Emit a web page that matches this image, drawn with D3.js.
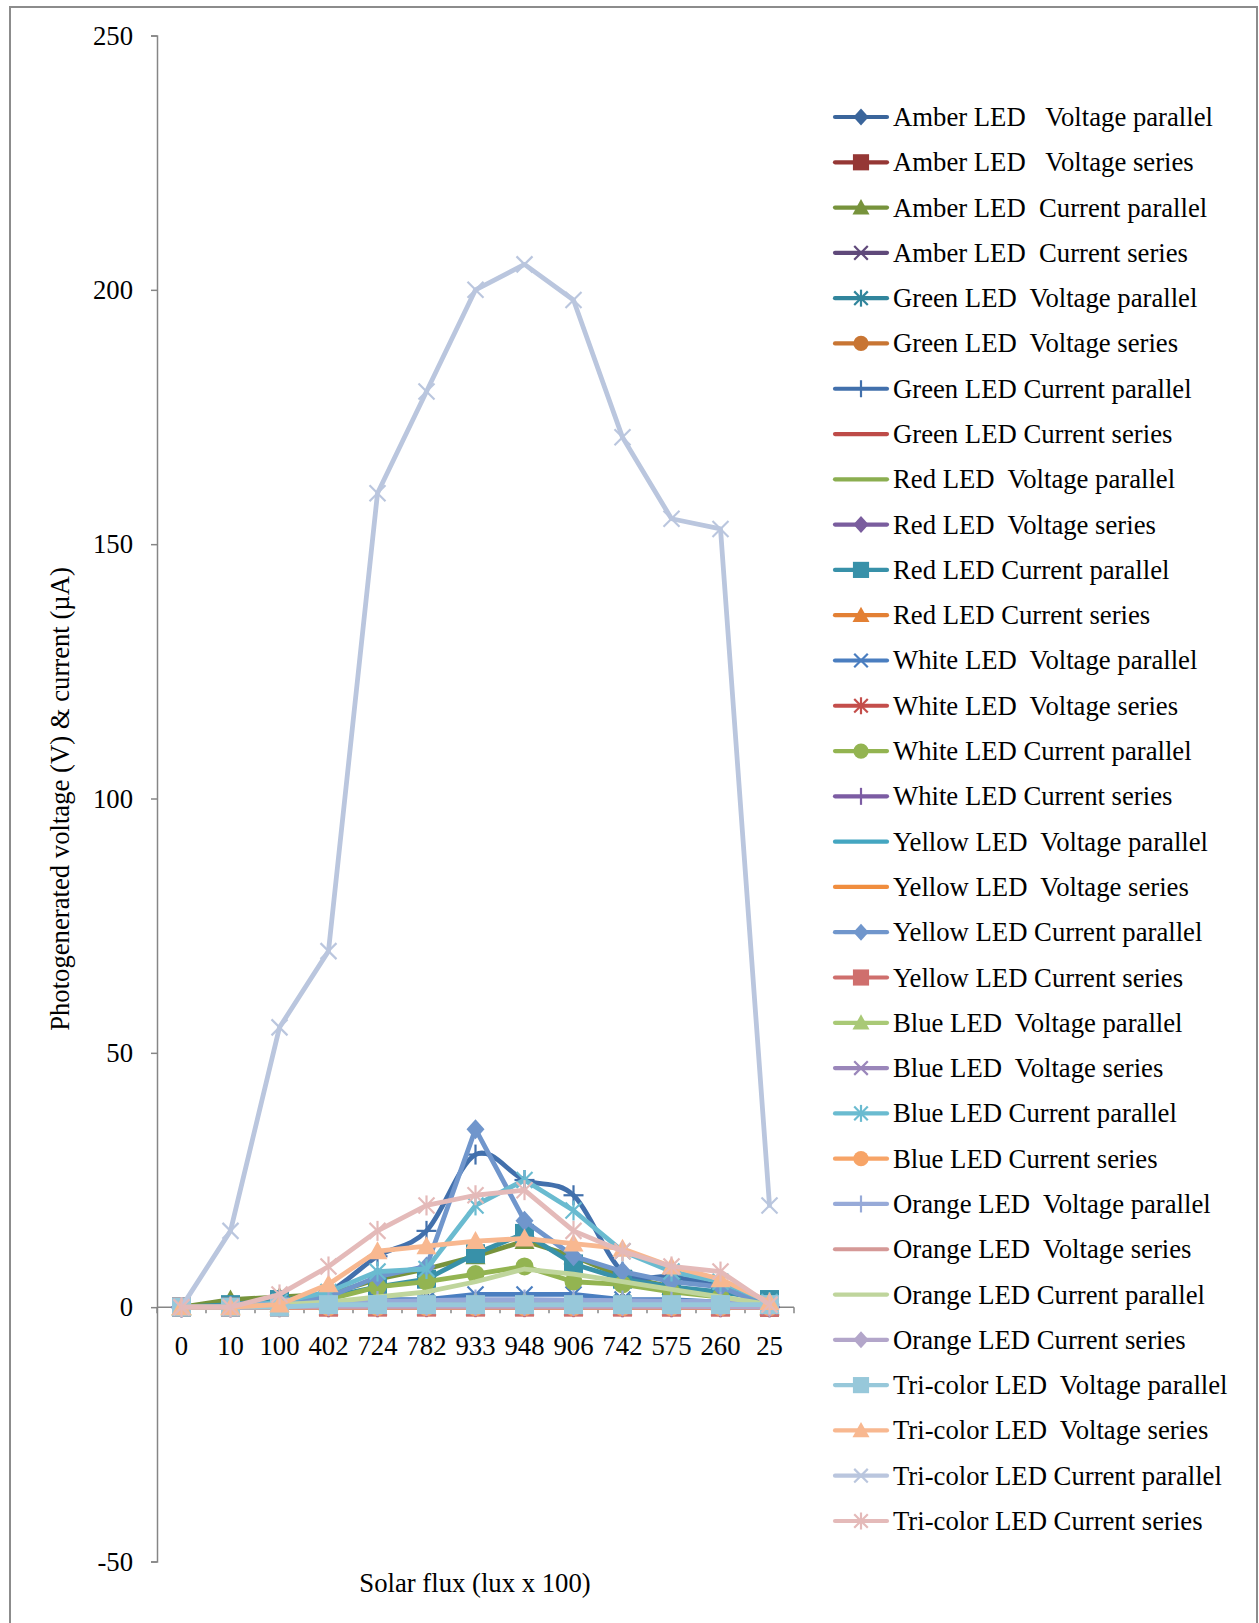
<!DOCTYPE html>
<html>
<head>
<meta charset="utf-8">
<script src="https://cdn.jsdelivr.net/npm/d3@7"></script>
<style>
  html, body { margin: 0; padding: 0; background: #fff; }
  svg text { font-family: "Liberation Serif", "Times New Roman", serif; fill: #000; }
</style>
</head>
<body>
<svg id="chart" width="1259" height="1623"></svg>
<script>
// Solar flux readings (lux x 100), in the order they were taken
const categories = ["0", "10", "100", "402", "724", "782", "933", "948", "906", "742", "575", "260", "25"];

// Each LED: [voltage parallel, voltage series, current parallel, current series]
const amber = [
  [0, 0.3, 0.6, 0.8, 1.0, 1.1, 1.2, 1.2, 1.1, 1.0, 0.9, 0.8, 0.4],
  [0, 0, 0.1, 0.1, 0.2, 0.2, 0.2, 0.2, 0.2, 0.2, 0.1, 0.1, 0],
  [0, 1.5, 2, 2.5, 5.5, 7.5, 10, 13, 10, 6, 4, 2, 0],
  [0, 0, 0, 0.1, 0.1, 0.1, 0.2, 0.2, 0.1, 0.1, 0.1, 0, 0]
];
const green = [
  [0, 0.2, 0.4, 0.6, 0.8, 0.9, 1.0, 1.0, 1.0, 0.9, 0.8, 0.7, 0.3],
  [0, 0, 0, 0.1, 0.1, 0.1, 0.1, 0.1, 0.1, 0.1, 0.1, 0, 0],
  [0, 0, 1, 3, 10, 15, 30, 25, 22, 7, 6, 4, 0],
  [0, 0, 0, 0, 0.1, 0.1, 0.1, 0.1, 0.1, 0.1, 0, 0, 0]
];
const red = [
  [0, 0.2, 0.5, 0.7, 0.9, 1.0, 1.1, 1.1, 1.0, 0.9, 0.8, 0.7, 0.3],
  [0, 0.1, 0.2, 0.2, 0.3, 0.3, 0.3, 0.3, 0.3, 0.3, 0.2, 0.2, 0.1],
  [0, 0.5, 1.5, 2, 4, 5.5, 10.5, 14.5, 8.5, 5.5, 4, 3, 1.5],
  [0, 0, 0, 0, 0, 0, 0, 0, 0, 0, 0, 0, 0]
];
const white = [
  [0, 0, 0.5, 1, 1.5, 1.5, 2.5, 2.5, 2.5, 1.5, 1.5, 1, 0.3],
  [0, 0, 0, 0, 0, 0, 0, 0, 0, 0, 0, 0, 0],
  [0, 0.2, 0.5, 1.5, 4, 5, 6.5, 8, 5, 4.5, 3, 2, 0.3],
  [0, 0, 0, 0, 0, 0.1, 0.1, 0.1, 0.1, 0, 0, 0, 0]
];
const yellow = [
  [0, 0.2, 0.5, 0.7, 0.8, 0.9, 1.0, 1.0, 0.9, 0.8, 0.8, 0.7, 0.3],
  [0, 0, 0, 0, 0, 0, 0, 0, 0, 0, 0, 0, 0],
  [0, 0, 1, 2, 6, 8, 35, 17, 10, 7, 5, 4, 0],
  [0, 0, 0, 0, 0, 0, 0, 0, 0, 0, 0, 0, 0]
];
const blue = [
  [0, 0.2, 0.6, 0.8, 1.0, 1.0, 1.1, 1.1, 1.0, 1.0, 0.9, 0.8, 0.4],
  [0, 0.1, 0.3, 0.4, 0.5, 0.5, 0.5, 0.5, 0.5, 0.5, 0.4, 0.4, 0.2],
  [0, 0, 1, 3, 7, 7.5, 20, 25, 19, 11, 7, 5, 1],
  [0, 0, 0, 0, 0, 0, 0, 0, 0, 0, 0, 0, 0]
];
const orange = [
  [0, 0.2, 0.6, 1.0, 1.2, 1.3, 1.5, 1.5, 1.4, 1.3, 1.2, 1.1, 0.5],
  [0, 0, 0, 0, 0, 0, 0, 0, 0, 0, 0, 0, 0],
  [0, 0, 0.5, 1, 2, 3, 5, 7.5, 6.5, 5, 3.5, 2, 0.5],
  [0, 0, 0.1, 0.2, 0.2, 0.2, 0.2, 0.2, 0.2, 0.2, 0.2, 0.1, 0]
];
const tricolor = [
  [0, 0, 0, 0.5, 0.5, 0.5, 0.5, 0.5, 0.5, 0.5, 0.5, 0.5, 0.5],
  [0, 0, 0.5, 4.5, 11, 12, 13, 13.5, 12.5, 11.5, 8, 5.5, 1],
  [0, 15, 55, 70, 160, 180, 200, 205, 198, 171, 155, 153, 20],
  [0, 0, 2.5, 8, 15, 20, 22, 23, 15, 11, 8, 7, 0.5]
];

// Legend labels, one per series, spacing kept as typed
const seriesNames = [
  "Amber LED   Voltage parallel", "Amber LED   Voltage series", "Amber LED  Current parallel", "Amber LED  Current series",
  "Green LED  Voltage parallel", "Green LED  Voltage series", "Green LED Current parallel", "Green LED Current series",
  "Red LED  Voltage parallel", "Red LED  Voltage series", "Red LED Current parallel", "Red LED Current series",
  "White LED  Voltage parallel", "White LED  Voltage series", "White LED Current parallel", "White LED Current series",
  "Yellow LED  Voltage parallel", "Yellow LED  Voltage series", "Yellow LED Current parallel", "Yellow LED Current series",
  "Blue LED  Voltage parallel", "Blue LED  Voltage series", "Blue LED Current parallel", "Blue LED Current series",
  "Orange LED  Voltage parallel", "Orange LED  Voltage series", "Orange LED Current parallel", "Orange LED Current series",
  "Tri-color LED  Voltage parallel", "Tri-color LED  Voltage series", "Tri-color LED Current parallel", "Tri-color LED Current series"
];

const seriesColors = [
  "#3A659B", "#953735", "#77933C", "#5F497A", "#31859C", "#C87533", "#4270AC", "#BE4B48",
  "#8BAE50", "#7A5D9E", "#3891A9", "#E38034", "#4A7EC0", "#C44E4B", "#93B451", "#7C5CA3",
  "#44A6C1", "#F08D3E", "#7096CC", "#CF6F6D", "#A9C976", "#9A86BA", "#6ABBD0", "#F7A467",
  "#97AAD8", "#D59997", "#BFD59C", "#B3A6CA", "#97C8DA", "#F8B890", "#BAC6DE", "#E4BAB9"
];

// Marker cycle used by the spreadsheet for successive series
const markerCycle = ["diamond", "square", "triangle", "x", "asterisk", "circle", "plus", "none", "none"];
const smoothSeries = ["Green LED Current parallel"];

const yTicks = [-50, 0, 50, 100, 150, 200, 250];
const xTitle = "Solar flux (lux x 100)";
const yTitle = "Photogenerated voltage (V) & current (µA)";

const seriesValues = [].concat(amber, green, red, white, yellow, blue, orange, tricolor);
const series = seriesValues.map((vals, i) => ({
  name: seriesNames[i],
  color: seriesColors[i],
  marker: markerCycle[i % markerCycle.length],
  smooth: smoothSeries.includes(seriesNames[i]),
  values: vals
}));

const svg = d3.select("#chart");
const FONT = 26.7;

// outer frame
svg.append("rect")
  .attr("x", 10).attr("y", 7).attr("width", 1247).attr("height", 1660)
  .attr("fill", "none").attr("stroke", "#8c8c8c").attr("stroke-width", 2);

const plot = { left: 157, right: 794, top: 35.5, bottom: 1561.5 };

const x = d3.scalePoint().domain(categories).range([plot.left, plot.right]).padding(0.5);
const y = d3.scaleLinear().domain([-50, 250]).range([plot.bottom, plot.top]);
const band = (plot.right - plot.left) / categories.length;

// y axis
const yAxis = svg.append("g").attr("transform", `translate(${plot.left},0)`)
  .call(d3.axisLeft(y).tickValues(yTicks).tickSize(6).tickPadding(18).tickFormat(d => String(d)));
yAxis.select(".domain").attr("stroke", "#868686").attr("stroke-width", 1.5);
yAxis.selectAll(".tick line").attr("stroke", "#868686").attr("stroke-width", 1.5);
yAxis.selectAll("text").attr("font-size", FONT).attr("font-family", "Liberation Serif").attr("fill", "#000");

// x axis sits at zero; tick marks on the category boundaries
const xg = svg.append("g").attr("transform", `translate(0,${y(0)})`);
xg.append("line").attr("x1", plot.left).attr("x2", plot.right)
  .attr("stroke", "#868686").attr("stroke-width", 1.5);
xg.selectAll("line.bound").data(d3.range(categories.length + 1)).join("line")
  .attr("class", "bound")
  .attr("x1", k => plot.left + k * band).attr("x2", k => plot.left + k * band)
  .attr("y1", 0).attr("y2", 6)
  .attr("stroke", "#868686").attr("stroke-width", 1.5);
xg.selectAll("text").data(categories).join("text")
  .attr("x", d => x(d)).attr("y", 48)
  .attr("text-anchor", "middle").attr("font-size", FONT)
  .text(d => d);

// axis titles
svg.append("text")
  .attr("transform", `translate(69,799) rotate(-90)`)
  .attr("text-anchor", "middle").attr("font-size", FONT)
  .text(yTitle);
svg.append("text")
  .attr("x", 475).attr("y", 1592)
  .attr("text-anchor", "middle").attr("font-size", FONT)
  .text(xTitle);

// marker drawing
function drawMarker(g, type, color, h) {
  if (type === "none") return;
  if (type === "diamond") {
    g.append("path").attr("d", `M0,${-h}L${h * 0.9},0L0,${h}L${-h * 0.9},0Z`).attr("fill", color);
  } else if (type === "square") {
    const s = h * 0.95;
    g.append("rect").attr("x", -s).attr("y", -s).attr("width", 2 * s).attr("height", 2 * s).attr("fill", color);
  } else if (type === "triangle") {
    g.append("path").attr("d", `M0,${-h}L${h},${h * 0.8}L${-h},${h * 0.8}Z`).attr("fill", color);
  } else if (type === "circle") {
    g.append("circle").attr("r", h * 0.9).attr("fill", color);
  } else {
    const segs = [];
    const d = h * 0.8;
    if (type === "x" || type === "asterisk") {
      segs.push([-d, -d, d, d], [-d, d, d, -d]);
    }
    if (type === "asterisk" || type === "plus") {
      segs.push([0, -h, 0, h]);
    }
    if (type === "plus") {
      segs.push([-h, 0, h, 0]);
    }
    segs.forEach(s => g.append("line")
      .attr("x1", s[0]).attr("y1", s[1]).attr("x2", s[2]).attr("y2", s[3])
      .attr("stroke", color).attr("stroke-width", 2.2));
  }
}

// series lines and markers
const plotG = svg.append("g");
series.forEach(s => {
  const g = plotG.append("g");
  const line = d3.line()
    .x((v, i) => x(categories[i]))
    .y(v => y(v))
    .curve(s.smooth ? d3.curveCardinal.tension(0) : d3.curveLinear);
  g.append("path").attr("d", line(s.values))
    .attr("fill", "none").attr("stroke", s.color).attr("stroke-width", 4.8)
    .attr("stroke-linejoin", "round").attr("stroke-linecap", "round");
  s.values.forEach((v, i) => {
    const mg = g.append("g").attr("transform", `translate(${x(categories[i])},${y(v)})`);
    drawMarker(mg, s.marker, s.color, 10);
  });
});

// legend
const legend = svg.append("g");
const rowH = 45.29, legTop = 117;
series.forEach((s, i) => {
  const row = legend.append("g").attr("transform", `translate(0,${legTop + i * rowH})`);
  row.append("line").attr("x1", 835).attr("x2", 887)
    .attr("stroke", s.color).attr("stroke-width", 4.2).attr("stroke-linecap", "round");
  const mg = row.append("g").attr("transform", "translate(861,0)");
  drawMarker(mg, s.marker, s.color, 8.5);
  row.append("text").attr("x", 893).attr("y", 9)
    .attr("font-size", FONT).style("white-space", "pre")
    .text(s.name);
});
</script>
</body>
</html>
